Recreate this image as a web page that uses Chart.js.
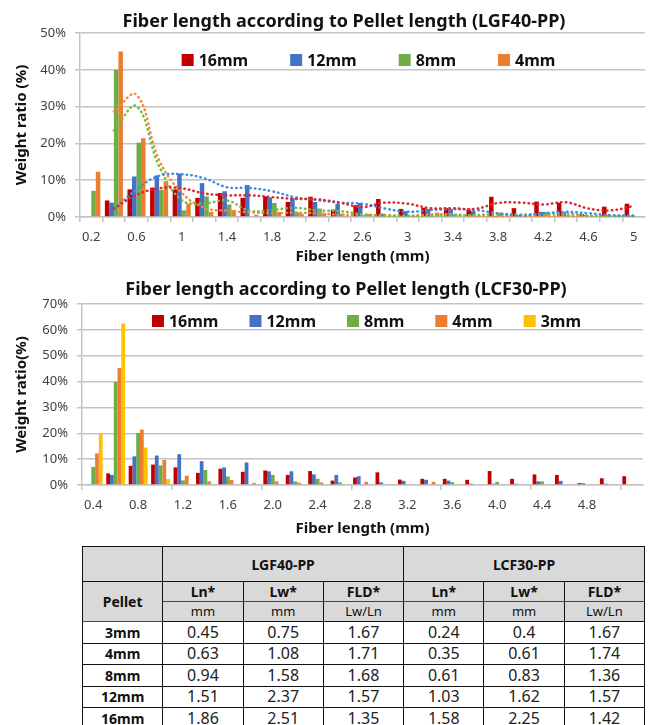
<!DOCTYPE html>
<html>
<head>
<meta charset="utf-8">
<script src="https://cdn.jsdelivr.net/npm/chart.js@4.4.1/dist/chart.umd.min.js"></script>
<style>
  body { margin: 0; background: #fff; }
  #wrap { position: relative; width: 649px; height: 725px; overflow: hidden; }
  canvas { position: absolute; left: 0; }
  table {
    position: absolute; left: 82px; top: 546px; width: 563px;
    border-collapse: collapse; table-layout: fixed;
    font-family: "Noto Sans", sans-serif; color: #111;
  }
  td { border: 1.5px solid #111; text-align: center; padding: 0; line-height: 17px; }
  .hd { background: #d9d9d9; font-weight: bold; font-size: 14px; }
  .unit { background: #d9d9d9; font-size: 13px; font-weight: normal; border-top: 1px solid #444; }
  .sub td.hd { border-bottom: 1px solid #444; }
  .pel { font-weight: bold; font-size: 14px; }
  .val { font-size: 16px; color: #222; }
</style>
</head>
<body>
<div id="wrap">
  <canvas id="chart-lgf" width="649" height="268" style="top:0"></canvas>
  <canvas id="chart-lcf" width="649" height="272" style="top:268px"></canvas>
  <table id="summary"></table>
</div>
<script>
// LGF40-PP (top chart)
const lgfLengths = ['0.2','0.4','0.6','0.8','1','1.2','1.4','1.6','1.8','2','2.2','2.4','2.6','2.8','3','3.2','3.4','3.6','3.8','4','4.2','4.4','4.6','4.8','5'];
const lgf16 = [0, 4.5, 7.5, 8.0, 7.5, 5.2, 6.5, 5.2, 5.6, 4.1, 5.5, 2.0, 3.2, 4.9, 2.2, 2.5, 2.4, 2.0, 5.5, 2.4, 4.2, 3.9, 0.8, 2.8, 3.6];
const lgf12 = [0, 3.9, 11.0, 11.3, 11.8, 9.2, 7.0, 8.7, 5.3, 5.2, 4.1, 3.6, 3.8, 0.9, 1.6, 2.2, 2.2, 1.6, 0.3, 0.5, 1.4, 1.4, 0.5, 0.5, 0.3];
const lgf8  = [7.1, 40.0, 20.2, 7.4, 1.8, 5.6, 3.4, 0, 3.8, 1.3, 2.3, 0.9, 0.5, 0.2, 0.3, 0.3, 0.7, 0.3, 1.2, 0.2, 1.4, 0.5, 0.2, 0.2, 0.2];
const lgf4  = [12.3, 45.0, 21.4, 9.7, 3.6, 1.4, 1.9, 0.6, 1.4, 0.9, 1.0, 0.3, 0.8, 0.3, 0.3, 1.2, 0.3, 0, 0, 0, 0, 0, 0, 0, 0];
// dotted trend lines
const lgf16Trend = [null, 2.3, 6.0, 7.8, 7.8, 6.4, 5.9, 5.9, 5.4, 4.9, 4.8, 3.9, 2.7, 3.9, 3.6, 2.4, 2.4, 2.2, 3.8, 3.9, 3.4, 4.0, 2.3, 1.8, 3.0];
const lgf12Trend = [null, 2.0, 7.5, 11.2, 11.6, 10.5, 8.1, 7.9, 7.0, 5.4, 4.6, 3.9, 3.6, 2.3, 1.4, 1.9, 2.1, 1.9, 1.0, 0.4, 1.0, 1.4, 1.0, 0.5, 0.4];
const lgf8Trend  = [null, 23.5, 30.1, 13.8, 4.6, 3.7, 4.5, 1.7, 1.9, 2.5, 1.8, 1.6, 0.7, 0.4, 0.3, 0.3, 0.5, 0.5, 0.8, 0.7, 0.8, 0.9, 0.4, 0.2, 0.2];
const lgf4Trend  = [null, 28.7, 33.2, 15.5, 6.6, 2.5, 1.7, 1.3, 1.0, 1.2, 1.0, 0.6, 0.6, 0.5, 0.3, 0.7, 0.7, 0.3, 0.2, 0.2, 0.2, 0.2, 0.2, 0.2, 0.2];

// LCF30-PP (bottom chart)
const lcfLengths = ['0.4','0.6','0.8','1.0','1.2','1.4','1.6','1.8','2.0','2.2','2.4','2.6','2.8','3.0','3.2','3.4','3.6','3.8','4.0','4.2','4.4','4.6','4.8','5.0','5.2'];
const lcf16 = [0, 4.5, 7.4, 7.9, 6.8, 4.7, 6.3, 5.1, 5.6, 3.9, 5.4, 1.7, 2.9, 4.9, 2.1, 2.4, 2.4, 2.0, 5.4, 2.4, 4.1, 3.9, 0.7, 2.6, 3.4];
const lcf12 = [0.3, 3.9, 11.1, 11.4, 11.9, 9.2, 6.8, 8.7, 5.3, 5.3, 4.1, 3.9, 3.4, 1.0, 1.6, 2.0, 1.7, 0.5, 0.5, 0.5, 1.4, 1.6, 0.7, 0.5, 0];
const lcf8  = [7.0, 39.9, 20.1, 7.6, 1.8, 5.8, 3.3, 0, 3.9, 1.4, 2.4, 1.0, 0, 0, 0, 0, 1.1, 0, 1.2, 0, 1.4, 0, 0, 0, 0];
const lcf4  = [12.2, 45.2, 21.4, 9.7, 3.6, 1.4, 1.9, 0.8, 1.4, 0.9, 1.0, 0, 1.2, 0, 0, 1.2, 0, 0, 0, 0, 0, 0, 0, 0, 0];
const lcf3  = [19.9, 62.5, 14.5, 2.3, 0, 0, 0, 0, 0, 0, 0, 0, 0, 0, 0, 0, 0, 0, 0, 0, 0, 0, 0, 0, 0];

// Table
const pellets = ['3mm', '4mm', '8mm', '12mm', '16mm'];
const lgfLn  = ['0.45', '0.63', '0.94', '1.51', '1.86'];
const lgfLw  = ['0.75', '1.08', '1.58', '2.37', '2.51'];
const lgfFld = ['1.67', '1.71', '1.68', '1.57', '1.35'];
const lcfLn  = ['0.24', '0.35', '0.61', '1.03', '1.58'];
const lcfLw  = ['0.4', '0.61', '0.83', '1.62', '2.25'];
const lcfFld = ['1.67', '1.74', '1.36', '1.57', '1.42'];

const COLORS = { r16: '#c00000', b12: '#4472c4', g8: '#70ad47', o4: '#ed7d31', y3: '#ffc000' };
const FONT = '"Noto Sans", "Liberation Sans", sans-serif';
const GRID = '#c4c4c4';

// title centred a bit left of the plot, like the original
const chartTitle = {
  id: 'chartTitle',
  afterDraw(chart, args, opts) {
    const ctx = chart.ctx;
    ctx.save();
    ctx.font = `bold 18px ${FONT}`;
    ctx.fillStyle = '#111';
    ctx.textAlign = 'center';
    ctx.textBaseline = 'middle';
    ctx.fillText(opts.text, opts.x, opts.y);
    ctx.restore();
  }
};

// legend drawn inside the plot, under the top gridline
const insideLegend = {
  id: 'insideLegend',
  afterDraw(chart, args, opts) {
    const ctx = chart.ctx, area = chart.chartArea;
    const items = chart.data.datasets.filter(d => d.type !== 'line');
    const box = 12, textGap = 5;
    ctx.save();
    ctx.font = `bold 16px ${FONT}`;
    const widths = items.map(d => box + textGap + ctx.measureText(d.label).width);
    const total = widths.reduce((a, b) => a + b, 0) + opts.gap * (items.length - 1);
    let x = (area.left + area.right) / 2 - total / 2 + opts.shift;
    const y = area.top + opts.offsetY;
    ctx.textBaseline = 'middle';
    items.forEach((d, i) => {
      ctx.fillStyle = d.backgroundColor;
      ctx.fillRect(x, y - box / 2, box, box);
      ctx.fillStyle = '#111';
      ctx.fillText(d.label, x + box + textGap, y + 1);
      x += widths[i] + opts.gap;
    });
    ctx.restore();
  }
};

function trend(label, data, color) {
  return {
    type: 'line', label, data, borderColor: color, borderWidth: 2.5,
    borderDash: [0.5, 4.2], borderCapStyle: 'round', pointRadius: 0,
    tension: 0.4, fill: false, order: 0,
  };
}

function bar(label, data, color) {
  return { label, data, backgroundColor: color, order: 1 };
}

function makeChart(id, cfg) {
  const ctx = document.getElementById(id).getContext('2d');
  return new Chart(ctx, {
    type: 'bar',
    data: { labels: cfg.labels, datasets: cfg.datasets },
    plugins: [chartTitle, insideLegend],
    options: {
      responsive: false,
      animation: false,
      datasets: { bar: { categoryPercentage: cfg.catPct, barPercentage: 1 } },
      layout: { padding: { top: cfg.plotTop, right: cfg.padRight } },
      plugins: {
        legend: { display: false },
        tooltip: { enabled: false },
        chartTitle: cfg.title,
        insideLegend: cfg.legend,
      },
      scales: {
        x: {
          afterFit: s => { s.height = cfg.xHeight; },
          grid: {
            offset: true, drawOnChartArea: false, tickLength: 5, lineWidth: 1.5,
            tickColor: c => (c.index % cfg.tickEvery === 0 ? GRID : 'rgba(0,0,0,0)'),
          },
          border: { color: GRID, width: 1.5 },
          ticks: {
            autoSkip: false, maxRotation: 0, padding: 7, color: '#404040',
            font: { family: FONT, size: 13 },
            callback: (v, i) => (cfg.showLabel(i) ? cfg.labels[i] : ''),
          },
          title: {
            display: true, text: 'Fiber length (mm)', color: '#111',
            font: { family: FONT, size: 15, weight: 'bold' },
            padding: { top: 0, bottom: 2 },
          },
        },
        y: {
          min: 0, max: cfg.yMax,
          afterFit: s => { s.width = cfg.yWidth; },
          grid: { color: GRID, lineWidth: 1.5, tickLength: 5 },
          border: { color: GRID, width: 1.5 },
          ticks: {
            stepSize: 10, padding: 9, color: '#404040',
            font: { family: FONT, size: 13 },
            callback: v => v + '%',
          },
          title: {
            display: true, text: cfg.yTitle, color: '#111',
            font: { family: FONT, size: 15, weight: 'bold' },
            padding: { top: 13, bottom: 0 },
          },
        },
      },
    },
  });
}

makeChart('chart-lgf', {
  labels: lgfLengths,
  title: { text: 'Fiber length according to Pellet length (LGF40-PP)', x: 344, y: 22 },
  yTitle: 'Weight ratio (%)',
  yMax: 50, yWidth: 80, xHeight: 268 - 217, plotTop: 33, padRight: 4,
  catPct: 0.8, tickEvery: 1,
  showLabel: i => i % 2 === 0,
  legend: { gap: 42, shift: 6, offsetY: 27 },
  datasets: [
    trend('16mm trend', lgf16Trend, '#e3262b'),
    trend('12mm trend', lgf12Trend, '#3b8ee0'),
    trend('8mm trend', lgf8Trend, '#6fbf45'),
    trend('4mm trend', lgf4Trend, '#f28a3a'),
    bar('16mm', lgf16, COLORS.r16),
    bar('12mm', lgf12, COLORS.b12),
    bar('8mm', lgf8, COLORS.g8),
    bar('4mm', lgf4, COLORS.o4),
  ],
});

makeChart('chart-lcf', {
  labels: lcfLengths,
  title: { text: 'Fiber length according to Pellet length (LCF30-PP)', x: 346, y: 22 },
  yTitle: 'Weight ratio(%)',
  yMax: 70, yWidth: 82, xHeight: 272 - 217, plotTop: 36, padRight: 6,
  catPct: 0.84, tickEvery: 4,
  showLabel: i => i % 2 === 0 && i < 24,
  legend: { gap: 31, shift: 4, offsetY: 17 },
  datasets: [
    bar('16mm', lcf16, COLORS.r16),
    bar('12mm', lcf12, COLORS.b12),
    bar('8mm', lcf8, COLORS.g8),
    bar('4mm', lcf4, COLORS.o4),
    bar('3mm', lcf3, COLORS.y3),
  ],
});

function renderTable() {
  const rows = pellets.map((p, i) => `
    <tr style="height:21.5px">
      <td class="pel">${p}</td>
      <td class="val">${lgfLn[i]}</td><td class="val">${lgfLw[i]}</td><td class="val">${lgfFld[i]}</td>
      <td class="val">${lcfLn[i]}</td><td class="val">${lcfLw[i]}</td><td class="val">${lcfFld[i]}</td>
    </tr>`).join('');
  document.getElementById('summary').innerHTML = `
    <tr style="height:35px">
      <td class="hd"></td>
      <td class="hd" colspan="3">LGF40-PP</td>
      <td class="hd" colspan="3">LCF30-PP</td>
    </tr>
    <tr class="sub" style="height:20px">
      <td class="hd" rowspan="2">Pellet</td>
      <td class="hd">Ln*</td><td class="hd">Lw*</td><td class="hd">FLD*</td>
      <td class="hd">Ln*</td><td class="hd">Lw*</td><td class="hd">FLD*</td>
    </tr>
    <tr style="height:20px">
      <td class="unit">mm</td><td class="unit">mm</td><td class="unit">Lw/Ln</td>
      <td class="unit">mm</td><td class="unit">mm</td><td class="unit">Lw/Ln</td>
    </tr>
    ${rows}`;
}

renderTable();
</script>
</body>
</html>
